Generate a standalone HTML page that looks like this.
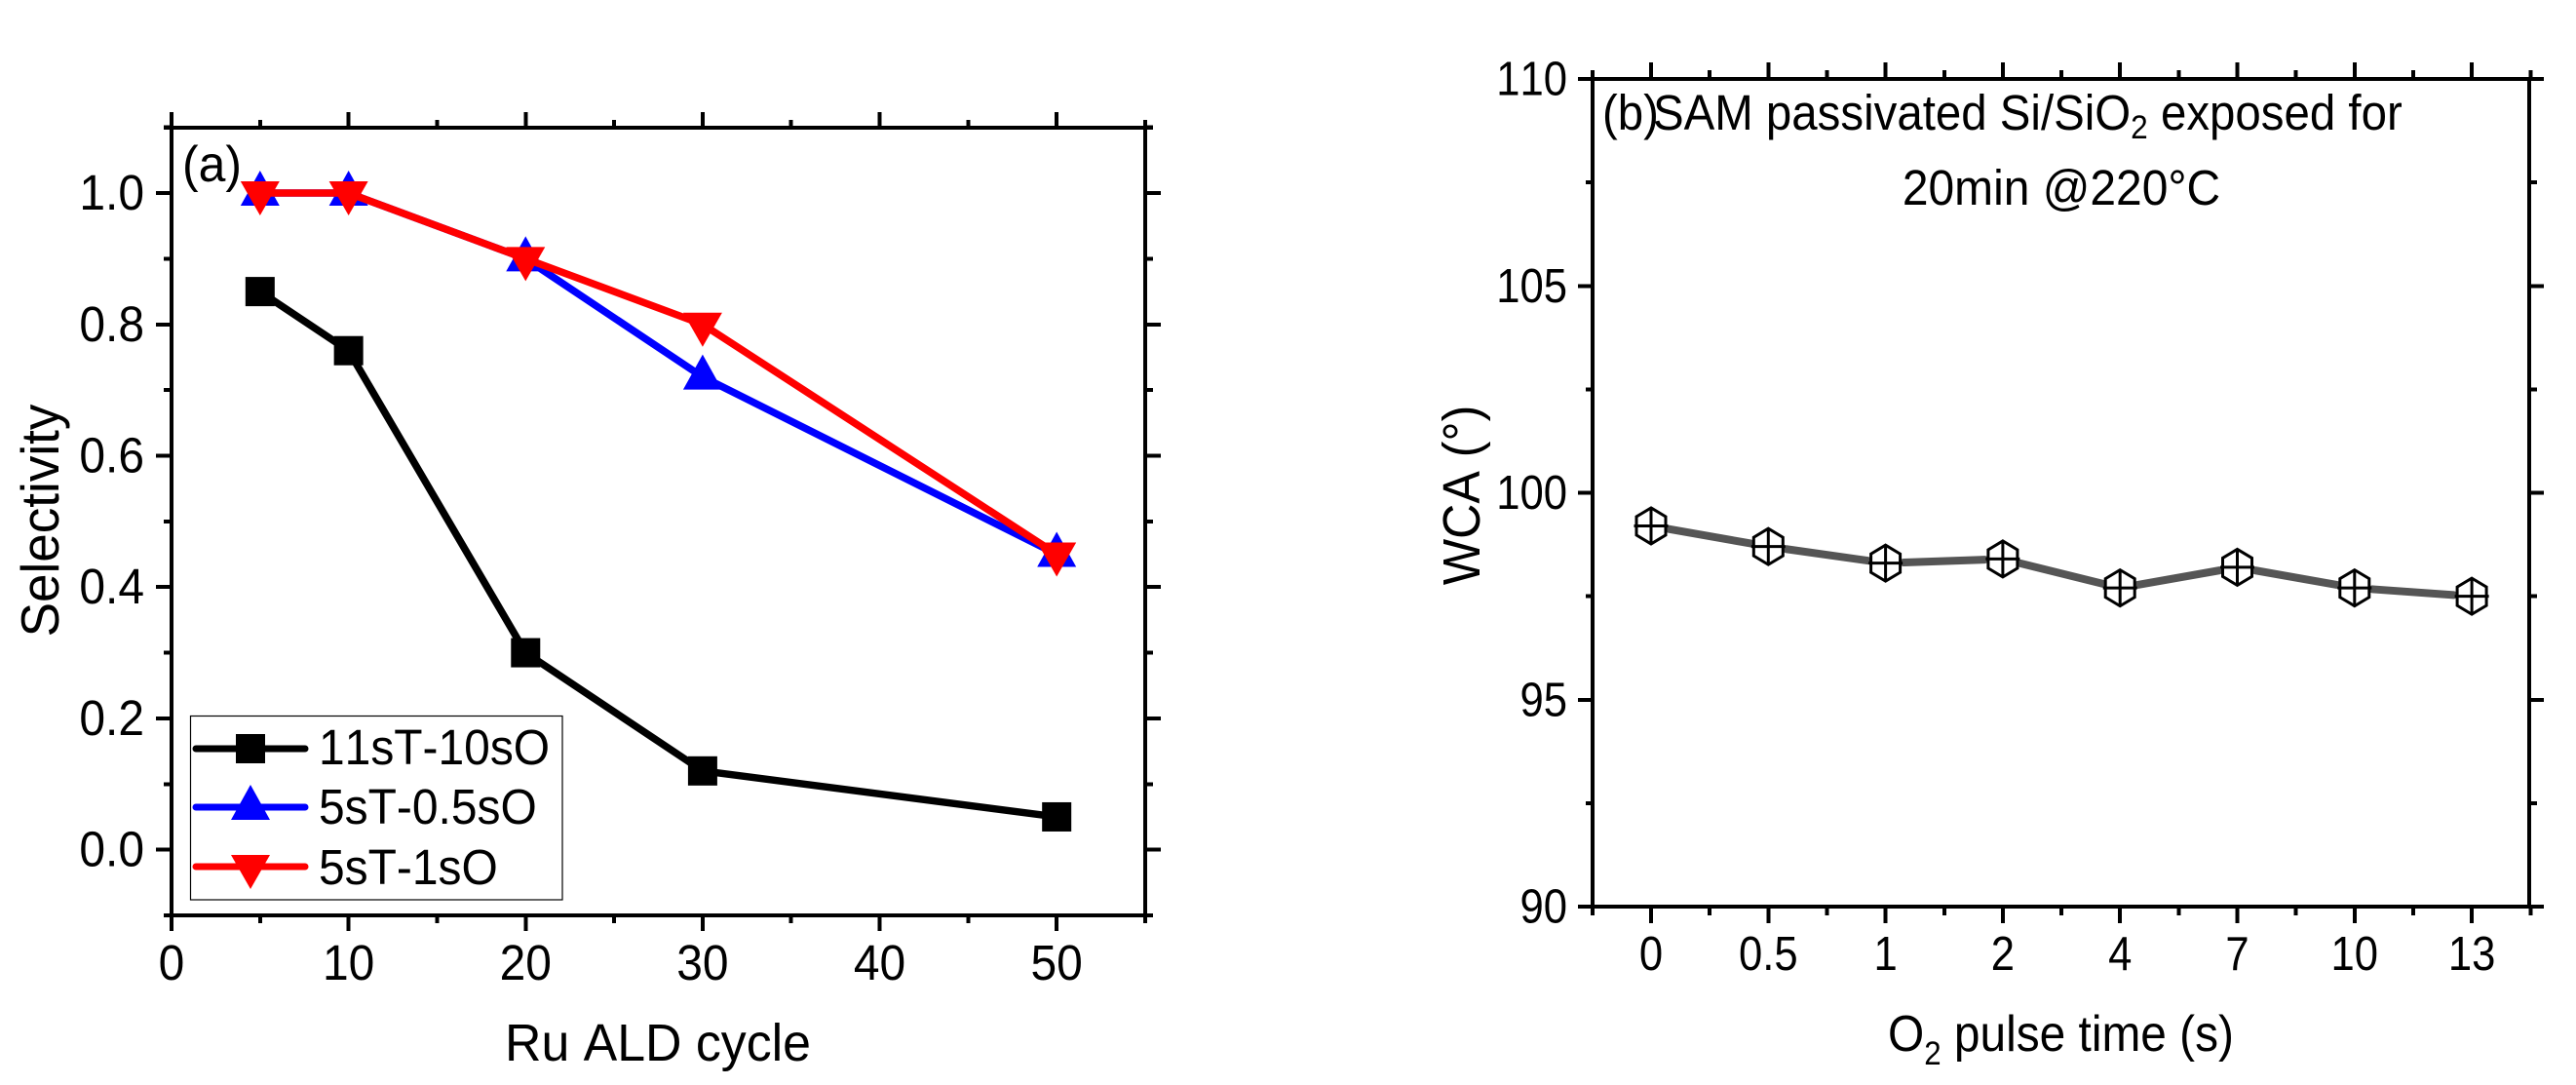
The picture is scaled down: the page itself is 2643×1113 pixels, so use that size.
<!DOCTYPE html>
<html lang="en">
<head>
<meta charset="utf-8">
<title>Selectivity and WCA charts</title>
<style>
html,body{margin:0;padding:0;background:#fff;width:2643px;height:1113px;overflow:hidden}
svg{display:block}
text{font-family:"Liberation Sans",Arial,sans-serif;fill:#000;font-kerning:none}
</style>
</head>
<body>
<svg id="fig" xmlns="http://www.w3.org/2000/svg" width="2643" height="1113" viewBox="0 0 2643 1113">
  <rect x="0" y="0" width="2643" height="1113" fill="#fff"/>
  <g id="panelA"></g>
  <g id="panelB"></g>

  <text transform="translate(187,186) scale(.96,1)" font-size="52">(a)</text>
  <text transform="translate(60,534) rotate(-90) scale(.965,1)" text-anchor="middle" font-size="55">Selectivity</text>
  <text transform="translate(675,1088) scale(.96,1)" text-anchor="middle" font-size="54">Ru ALD cycle</text>

  <g id="legend">
    <rect x="195.5" y="734.5" width="381.5" height="188.5" fill="#fff" stroke="#000" stroke-width="1.2"/>
  </g>

  <text transform="translate(1644,133) scale(.93,1)" font-size="51">(b)</text>
  <text transform="translate(1696,133) scale(.93,1)" font-size="51">SAM passivated Si/SiO<tspan dy="9" font-size="34">2</tspan><tspan dy="-9"> exposed for</tspan></text>
  <text transform="translate(2115,210) scale(.94,1)" text-anchor="middle" font-size="51">20min @220°C</text>
  <text transform="translate(1518,508) rotate(-90) scale(.93,1)" text-anchor="middle" font-size="54">WCA (°)</text>
  <text transform="translate(1937,1078) scale(.92,1)" font-size="52">O<tspan dy="14" font-size="34">2</tspan><tspan dy="-14"> pulse time (s)</tspan></text>
</svg>

<script>
// ---- Panel (a) data ----
const cyclesA = [5, 10, 20, 30, 50];
const selectivity11sT = [0.85, 0.76, 0.30, 0.12, 0.05];
const selectivity5sT05 = [1.0, 1.0, 0.90, 0.72, 0.45];
const selectivity5sT1 = [1.0, 1.0, 0.90, 0.80, 0.45];
const legendLabelsA = ['11sT-10sO', '5sT-0.5sO', '5sT-1sO'];
const xMajorA = [0, 10, 20, 30, 40, 50];
const xMinorA = [5, 15, 25, 35, 45, 55];
const xTickLabelsA = ['0', '10', '20', '30', '40', '50'];
const yMajorA = [0, 0.2, 0.4, 0.6, 0.8, 1.0];
const yMinorA = [-0.1, 0.1, 0.3, 0.5, 0.7, 0.9, 1.1];
const yTickLabelsA = ['0.0', '0.2', '0.4', '0.6', '0.8', '1.0'];

// ---- Panel (b) data ----
const pulseCategories = ['0', '0.5', '1', '2', '4', '7', '10', '13'];
const wcaValues = [99.2, 98.7, 98.3, 98.4, 97.7, 98.2, 97.7, 97.5];
const yMajorB = [90, 95, 100, 105, 110];
const yMinorB = [92.5, 97.5, 102.5, 107.5];
const yTickLabelsB = ['90', '95', '100', '105', '110'];
const xMinorB = [-0.5, 0.5, 1.5, 2.5, 3.5, 4.5, 5.5, 6.5, 7.5];

// ---- Axis functions ----
function xA(v) { return 176 + (v - 0) / 55 * 999; }
function yA(v) { return 939 - (v + 0.1) / 1.2 * 808.3; }
function xB(i) { return 1694 + i * 120.3; }
function yB(v) { return 930 - (v - 90) / 20 * 849; }

const NS = 'http://www.w3.org/2000/svg';
function mk(tag, parent, props) {
  const el = document.createElementNS(NS, tag);
  for (const k in props) el.setAttribute(k, props[k]);
  parent.appendChild(el);
  return el;
}
function axisLine(parent, x1, y1, x2, y2, w) {
  return mk('line', parent, { x1: x1, y1: y1, x2: x2, y2: y2, stroke: '#000', 'stroke-width': w || 4, 'shape-rendering': 'crispEdges' });
}
function markerSquare(parent, cx, cy, color) {
  return mk('rect', parent, { x: cx - 15, y: cy - 15, width: 30, height: 30, fill: color });
}
function markerUp(parent, cx, cy, color) {
  return mk('polygon', parent, { points: (cx - 20) + ',' + (cy + 13) + ' ' + (cx + 20) + ',' + (cy + 13) + ' ' + cx + ',' + (cy - 23), fill: color });
}
function markerDown(parent, cx, cy, color) {
  return mk('polygon', parent, { points: (cx - 20) + ',' + (cy - 12) + ' ' + (cx + 20) + ',' + (cy - 12) + ' ' + cx + ',' + (cy + 23), fill: color });
}

// ---- Panel (a) axes ----
const gA = document.getElementById('panelA');
const frameA = [[176, 131, 176, 939], [1175, 131, 1175, 939], [168, 131, 1183, 131], [168, 939, 1183, 939]];
frameA.forEach(function (f) {
  const el = axisLine(gA, f[0], f[1], f[2], f[3], 4);
  
  
});
xMajorA.forEach(function (v, i) {
  const top = axisLine(gA, xA(v), 131, xA(v), 115, 4);
  
  
  const bottom = axisLine(gA, xA(v), 939, xA(v), 955, 4);
  
  
  const label = mk('text', gA, { transform: 'translate(' + xA(v) + ',1005) scale(.94,1)', 'text-anchor': 'middle', 'font-size': 51 });
  label.textContent = xTickLabelsA[i];
  
  
});
xMinorA.forEach(function (v) {
  const top = axisLine(gA, xA(v), 131, xA(v), 123, 4);
  
  
  const bottom = axisLine(gA, xA(v), 939, xA(v), 947, 4);
  
  
});
yMajorA.forEach(function (v, i) {
  const left = axisLine(gA, 176, yA(v), 160, yA(v), 4);
  
  
  const right = axisLine(gA, 1175, yA(v), 1191, yA(v), 4);
  
  
  const label = mk('text', gA, { transform: 'translate(148,' + (yA(v) + 17) + ') scale(.94,1)', 'text-anchor': 'end', 'font-size': 51 });
  label.textContent = yTickLabelsA[i];
  
  
});
yMinorA.forEach(function (v) {
  const left = axisLine(gA, 176, yA(v), 168, yA(v), 4);
  
  
  const right = axisLine(gA, 1175, yA(v), 1183, yA(v), 4);
  
  
});

// ---- Panel (a) series ----
function seriesPath(vals) {
  return vals.map(function (v, i) { return xA(cyclesA[i]) + ',' + yA(v); }).join(' ');
}
const line11 = mk('polyline', gA, { points: seriesPath(selectivity11sT), fill: 'none', stroke: '#000', 'stroke-width': 7.5, 'stroke-linejoin': 'round' });


selectivity11sT.forEach(function (v, i) {
  const m = markerSquare(gA, xA(cyclesA[i]), yA(v), '#000');
  
  
});
const line05 = mk('polyline', gA, { points: seriesPath(selectivity5sT05), fill: 'none', stroke: '#00f', 'stroke-width': 7.5, 'stroke-linejoin': 'round' });


selectivity5sT05.forEach(function (v, i) {
  const m = markerUp(gA, xA(cyclesA[i]), yA(v), '#00f');
  
  
});
const line1 = mk('polyline', gA, { points: seriesPath(selectivity5sT1), fill: 'none', stroke: '#f00', 'stroke-width': 7.5, 'stroke-linejoin': 'round' });


selectivity5sT1.forEach(function (v, i) {
  const m = markerDown(gA, xA(cyclesA[i]), yA(v), '#f00');
  
  
});

// ---- Legend ----
const gL = document.getElementById('legend');
function legendLine(y, color) {
  return mk('line', gL, { x1: 201, y1: y, x2: 313, y2: y, stroke: color, 'stroke-width': 7, 'stroke-linecap': 'round' });
}
function legendText(y, idx) {
  const t = mk('text', gL, { transform: 'translate(327,' + y + ') scale(.94,1)', 'font-size': 51 });
  t.textContent = legendLabelsA[idx];
  return t;
}
const l1 = legendLine(768, '#000');


const m1 = markerSquare(gL, 257, 768, '#000');


const t1 = legendText(784, 0);


const l2 = legendLine(828, '#00f');


const m2 = markerUp(gL, 257, 828, '#00f');


const t2 = legendText(845, 1);


const l3 = legendLine(889, '#f00');


const m3 = markerDown(gL, 257, 889, '#f00');


const t3 = legendText(907, 2);



// ---- Panel (b) axes ----
const gB = document.getElementById('panelB');
const frameB = [[1634, 81, 1634, 930], [2595, 81, 2595, 930], [1619, 81, 2610, 81], [1619, 930, 2610, 930]];
frameB.forEach(function (f) {
  const el = axisLine(gB, f[0], f[1], f[2], f[3], 4);
  
  
});
pulseCategories.forEach(function (c, i) {
  const top = axisLine(gB, xB(i), 81, xB(i), 64, 4);
  
  
  const bottom = axisLine(gB, xB(i), 930, xB(i), 947, 4);
  
  
  const label = mk('text', gB, { transform: 'translate(' + xB(i) + ',995) scale(.89,1)', 'text-anchor': 'middle', 'font-size': 49 });
  label.textContent = c;
  
  
});
xMinorB.forEach(function (v) {
  const top = axisLine(gB, xB(v), 81, xB(v), 72, 4);
  
  
  const bottom = axisLine(gB, xB(v), 930, xB(v), 939, 4);
  
  
});
yMajorB.forEach(function (v, i) {
  const left = axisLine(gB, 1634, yB(v), 1619, yB(v), 4);
  
  
  const right = axisLine(gB, 2595, yB(v), 2610, yB(v), 4);
  
  
  const label = mk('text', gB, { transform: 'translate(1608,' + (yB(v) + 16.5) + ') scale(.89,1)', 'text-anchor': 'end', 'font-size': 49 });
  label.textContent = yTickLabelsB[i];
  
  
});
yMinorB.forEach(function (v) {
  const left = axisLine(gB, 1634, yB(v), 1627, yB(v), 4);
  
  
  const right = axisLine(gB, 2595, yB(v), 2603, yB(v), 4);
  
  
});

// ---- Panel (b) series: segments stop short of each hollow marker ----
const GAP = 18.5;
wcaValues.forEach(function (v, i) {
  if (i === wcaValues.length - 1) return;
  const x1 = xB(i), y1 = yB(v), x2 = xB(i + 1), y2 = yB(wcaValues[i + 1]);
  const len = Math.hypot(x2 - x1, y2 - y1);
  const ux = (x2 - x1) / len, uy = (y2 - y1) / len;
  const seg = mk('line', gB, { x1: x1 + ux * GAP, y1: y1 + uy * GAP, x2: x2 - ux * GAP, y2: y2 - uy * GAP, stroke: '#555', 'stroke-width': 8, 'stroke-linecap': 'round' });
  
  
});
wcaValues.forEach(function (v, i) {
  const cx = xB(i), cy = yB(v);
  const g = mk('g', gB, {});
  
  
  const hex = mk('polygon', g, {
    points: cx + ',' + (cy - 18.5) + ' ' + (cx + 15) + ',' + (cy - 9.5) + ' ' + (cx + 15) + ',' + (cy + 9.5) + ' ' + cx + ',' + (cy + 18.5) + ' ' + (cx - 15) + ',' + (cy + 9.5) + ' ' + (cx - 15) + ',' + (cy - 9.5),
    fill: 'none', stroke: '#000', 'stroke-width': 3
  });
  
  
  const h = mk('line', g, { x1: cx - 17.5, y1: cy, x2: cx + 17.5, y2: cy, stroke: '#000', 'stroke-width': 3 });
  
  
  const w = mk('line', g, { x1: cx, y1: cy - 18.5, x2: cx, y2: cy + 18.5, stroke: '#000', 'stroke-width': 3 });
  
  
});
</script>
</body>
</html>
